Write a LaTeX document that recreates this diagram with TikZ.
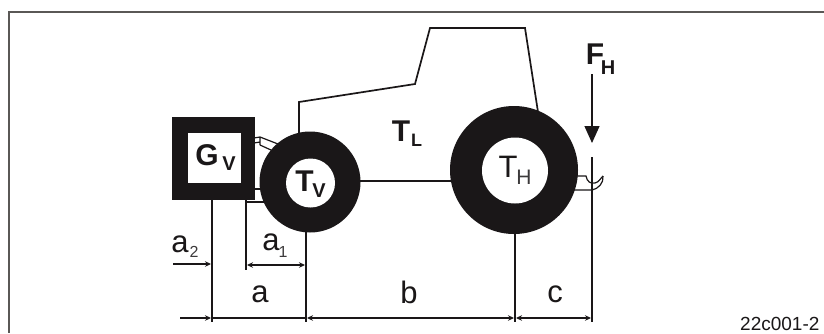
\documentclass[tikz,border=0pt]{standalone}
\usepackage{fontspec}
\setmainfont{Liberation Sans}
\usetikzlibrary{arrows.meta}
\definecolor{ink}{HTML}{1A1718}
\definecolor{framegray}{HTML}{5A5856}
\tikzset{
  px/.style={x=1pt,y=-1pt},
  outline/.style={draw=ink,line width=1.7pt},
  thin part/.style={draw=ink,line width=1.2pt},
  dim/.style={draw=ink,line width=1.3pt},
  dimarrow/.style={dim,-{Stealth[length=6pt,width=5.5pt]}},
  dimboth/.style={dim,{Stealth[length=6pt,width=5.5pt]}-{Stealth[length=6pt,width=5.5pt]}},
  lab/.style={text=ink,inner sep=0pt,anchor=center,font=\fontsize{31}{31}\selectfont},
  sub/.style={text=ink!85!white,inner sep=0pt,anchor=center,font=\fontsize{16}{16}\selectfont},
  rsub/.style={text=ink!85!white,inner sep=0pt,anchor=center,font=\fontsize{21}{21}\selectfont},
  blab/.style={text=ink,inner sep=0pt,anchor=center,font=\bfseries\fontsize{30}{30}\selectfont},
  bsub/.style={text=ink,inner sep=0pt,anchor=center,font=\bfseries\fontsize{20}{20}\selectfont}
}
\begin{document}
\begin{tikzpicture}[px]
\useasboundingbox (0,0) rectangle (824,333);
\fill[white] (0,0) rectangle (824,333);
\draw[draw=framegray,line width=1.6pt] (824,12) -- (9,12) -- (9,333);
% body
\draw[outline,line join=miter] (299,134) -- (299,102) -- (415,84) -- (430,28) -- (525,28) -- (538,112);
\draw[outline] (360,181) -- (460,181);
% front linkage
\draw[thin part] (260,137) -- (278,144) (260,145) -- (271,150) (260,137) -- (260,145) (254,138) -- (260,137) (254,143) -- (260,142);
\draw[outline] (254,189) -- (265,189) (246,202) -- (268,202);
% ballast
\fill[ink] (172,117) rectangle (255,200);
\fill[white] (188,133) rectangle (241,183);
\node[blab] (G) at (207,155.5) {G};
\node[bsub] (GV) at (229,164) {V};
% wheels
\fill[ink] (310,182) circle (50.5);
\fill[white] (310.5,183) circle (24.5);
\fill[ink] (514,170) circle (64);
\fill[white] (515,170.5) circle (33);
\node[blab] (T1) at (304.5,181.5) {T};
\node[bsub] (T1s) at (319,190.5) {V};
\node[lab] (T2) at (508,166.5) {T};
\node[rsub] (T2s) at (524,177) {H};
\node[blab] (TL) at (401,131) {T};
\node[bsub,font=\bfseries\fontsize{18}{18}\selectfont] (TLs) at (416.5,140) {L};
% force
\node[blab] (F) at (595,54) {F};
\node[bsub] (Fs) at (608,68) {H};
\coordinate (fa) at (592,74);
\coordinate (fb) at (592,143);
\draw[dim,-{Stealth[length=17pt,width=15pt,inset=0pt]}] (fa) -- (fb);
% hook
\draw[thin part] (570,176) -- (586,176) .. controls (587,182) and (591,184) .. (595,183) .. controls (599,182) and (600,179) .. (603,176);
\draw[thin part] (574,190) -- (592,190) .. controls (598,189) and (604,183) .. (603,176);
% extension lines
\coordinate (e1t) at (212,200); \coordinate (e1b) at (212,322);
\coordinate (e2t) at (246,200); \coordinate (e2b) at (246,270);
\coordinate (e3t) at (306,231); \coordinate (e3b) at (306,322);
\coordinate (e4t) at (515,233); \coordinate (e4b) at (515,322);
\coordinate (e5t) at (592,157); \coordinate (e5b) at (592,322);
\foreach \a/\b in {e1t/e1b,e2t/e2b,e3t/e3b,e4t/e4b,e5t/e5b} \draw[dim] (\a) -- (\b);
% dimensions
\coordinate (a2s) at (173,264); \coordinate (a2e) at (211,264);
\draw[dimarrow] (a2s) -- (a2e);
\coordinate (a1s) at (247,265); \coordinate (a1e) at (305,265);
\draw[dimboth] (a1s) -- (a1e);
\coordinate (l1s) at (180,318); \coordinate (l1e) at (211,318);
\draw[dimarrow] (l1s) -- (l1e);
\draw[dim] (e1b |- l1e) -- (e3b |- l1e);
\coordinate (bs) at (307,318); \coordinate (be) at (514,318);
\draw[dimboth] (bs) -- (be);
\coordinate (cs) at (516,318); \coordinate (ce) at (591,318);
\draw[dimboth] (cs) -- (ce);
% labels
\node[lab] (la2) at (180,244.5) {a};
\node[sub] (la2s) at (194,252) {2};
\node[lab] (la1) at (271,242) {a};
\node[sub] (la1s) at (283,252) {1};
\node[lab] (la) at (260,294) {a};
\node[lab] (lb) at (409,292) {b};
\node[lab] (lc) at (555,294) {c};
\node[text=ink,inner sep=0pt,anchor=west,font=\fontsize{19}{19}\selectfont] (code) at (740,323.5) {22c001-2};
\end{tikzpicture}
\end{document}
